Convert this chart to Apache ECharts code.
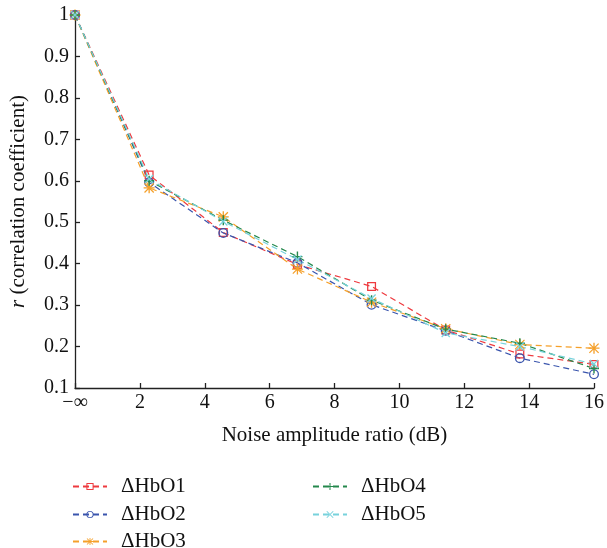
<!DOCTYPE html>
<html>
<head>
<meta charset="utf-8">
<script src="https://cdn.jsdelivr.net/npm/echarts@6/dist/echarts.min.js"></script>
<style>html,body{margin:0;padding:0;background:#fff}#chart{width:607px;height:548px}</style>
</head>
<body>
<div id="chart"></div>
<script>
// x positions: -∞ then 7 equally spaced noise levels up to 16 dB
const xPositions = [0, 16/7, 32/7, 48/7, 64/7, 80/7, 96/7, 16];
const seriesNames = ['ΔHbO1', 'ΔHbO2', 'ΔHbO3', 'ΔHbO4', 'ΔHbO5'];
const hbo1 = [1.0, 0.614, 0.475, 0.398, 0.345, 0.240, 0.182, 0.157];
const hbo2 = [1.0, 0.596, 0.474, 0.402, 0.301, 0.238, 0.172, 0.133];
const hbo3 = [1.0, 0.583, 0.513, 0.387, 0.307, 0.243, 0.205, 0.196];
const hbo4 = [1.0, 0.600, 0.505, 0.417, 0.312, 0.242, 0.208, 0.147];
const hbo5 = [1.0, 0.604, 0.502, 0.410, 0.316, 0.233, 0.200, 0.158];
const yTicks = [0.1, 0.2, 0.3, 0.4, 0.5, 0.6, 0.7, 0.8, 0.9, 1];
const xTickLabels = {0: '−∞', 2: '2', 4: '4', 6: '6', 8: '8', 10: '10', 12: '12', 14: '14', 16: '16'};

const colors = ['#ee3a3f', '#3a55ad', '#f5a02a', '#24884c', '#77d2dc'];
const symRect = 'path://M0,0 L10,0 L10,10 L0,10 Z M1.4,1.4 L1.4,8.6 L8.6,8.6 L8.6,1.4 Z';
const symCircle = 'path://M5,0 A5,5 0 1,1 5,10 A5,5 0 1,1 5,0 Z M5,1.3 A3.7,3.7 0 1,0 5,8.7 A3.7,3.7 0 1,0 5,1.3 Z';
const symPlus = 'path://M4.3,0 L5.7,0 L5.7,4.3 L10,4.3 L10,5.7 L5.7,5.7 L5.7,10 L4.3,10 L4.3,5.7 L0,5.7 L0,4.3 L4.3,4.3 Z';
const symX = 'path://M0,1 L1,0 L10,9 L9,10 Z M9,0 L10,1 L1,10 L0,9 Z';
const symStar = 'path://M4.4,0 L5.6,0 L5.6,10 L4.4,10 Z M0,4.4 L10,4.4 L10,5.6 L0,5.6 Z M1.2,0.4 L9.6,8.8 L8.8,9.6 L0.4,1.2 Z M8.8,0.4 L9.6,1.2 L1.2,9.6 L0.4,8.8 Z';
const symbols = [symRect, symCircle, symStar, symPlus, symX];
const sizes = [9, 10, 11, 10, 9];
const allData = [hbo1, hbo2, hbo3, hbo4, hbo5];

const font = 'Liberation Serif';
const series = seriesNames.map((n, i) => ({
  name: n,
  type: 'line',
  data: xPositions.map((x, j) => [x, allData[i][j]]),
  symbol: symbols[i],
  symbolSize: sizes[i],
  showAllSymbol: true,
  itemStyle: {color: colors[i]},
  lineStyle: {color: colors[i], width: 1.2, type: [6, 4]},
  emphasis: {disabled: true},
  animation: false
}));

// one legend per entry, laid out as two columns like the reference
const legendPos = [[72, 476], [72, 504], [72, 531], [312, 476], [312, 504]];
const legends = seriesNames.map((n, i) => ({
  data: [n],
  left: legendPos[i][0],
  top: legendPos[i][1],
  padding: 0,
  itemWidth: 34,
  itemHeight: 9,
  selectedMode: false,
  textStyle: {fontFamily: font, fontSize: 21, color: '#111', padding: [0, 0, 0, 9]}
}));

const chart = echarts.init(document.getElementById('chart'));
chart.setOption({
  backgroundColor: '#fff',
  animation: false,
  grid: {left: 73, top: 15, width: 522, height: 373, containLabel: false},
  legend: legends,
  xAxis: {
    type: 'value', min: 0, max: 16, interval: 2,
    name: 'Noise amplitude ratio (dB)', nameLocation: 'middle', nameGap: 37,
    nameTextStyle: {fontFamily: font, fontSize: 21, color: '#111'},
    axisLine: {lineStyle: {color: '#222', width: 1.3}},
    axisTick: {inside: true, length: 5, lineStyle: {color: '#222', width: 1.3}},
    axisLabel: {fontFamily: font, fontSize: 20, color: '#111', margin: 5,
      formatter: v => xTickLabels[v] !== undefined ? xTickLabels[v] : ''},
    splitLine: {show: false}
  },
  yAxis: {
    type: 'value', min: 0.1, max: 1, interval: 0.1,
    name: '{i|r} (correlation coefficient)', nameLocation: 'middle', nameGap: 46,
    nameTextStyle: {fontFamily: font, fontSize: 21, color: '#111',
      rich: {i: {fontFamily: font, fontSize: 21, fontStyle: 'italic', color: '#111'}}},
    axisLine: {show: true, lineStyle: {color: '#222', width: 1.3}},
    axisTick: {show: true, inside: true, length: 5, lineStyle: {color: '#222', width: 1.3}},
    axisLabel: {fontFamily: font, fontSize: 20, color: '#111', margin: 6,
      formatter: v => { const t = yTicks.find(y => Math.abs(y - v) < 1e-6); return t === undefined ? '' : String(t); }},
    splitLine: {show: false}
  },
  series: series
});
</script>
</body>
</html>
